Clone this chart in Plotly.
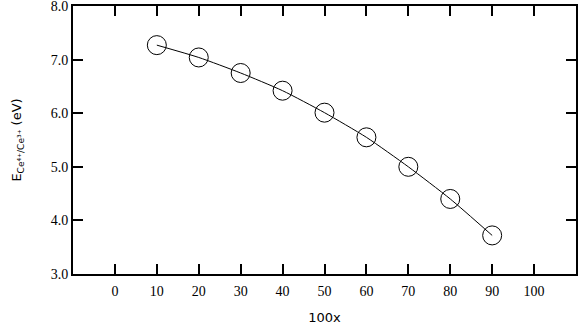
import plotly.graph_objects as go

x_vals = [10, 20, 30, 40, 50, 60, 70, 80, 90]
e_vals = [7.27, 7.04, 6.75, 6.42, 6.01, 5.55, 5.00, 4.40, 3.72]
x_ticks = [0, 10, 20, 30, 40, 50, 60, 70, 80, 90, 100]
y_ticks = [3.0, 4.0, 5.0, 6.0, 7.0, 8.0]

fig = go.Figure()
fig.add_trace(go.Scatter(x=x_vals, y=e_vals, mode="lines",
                         line=dict(color="black", width=1, shape="spline", smoothing=0.6),
                         hoverinfo="skip", showlegend=False))
fig.add_trace(go.Scatter(x=x_vals, y=e_vals, mode="markers",
                         marker=dict(symbol="circle-open", size=19, color="black",
                                     line=dict(color="black", width=1)),
                         showlegend=False))

tickfont = dict(family="Liberation Serif, serif", size=14, color="black")
fig.update_layout(
    width=578, height=325,
    margin=dict(l=73, r=2, t=6, b=51),
    paper_bgcolor="white", plot_bgcolor="white",
    xaxis=dict(range=[-10, 110], tickvals=x_ticks, ticktext=[str(v) for v in x_ticks],
               ticks="inside", ticklen=10, tickwidth=2, tickcolor="black",
               showline=True, linewidth=2, linecolor="black", mirror="ticks",
               showgrid=False, zeroline=False, tickfont=tickfont, ticklabelstandoff=3,
               automargin=False, ticklabeloverflow="allow",
               title=dict(text="100x", font=dict(family="DejaVu Sans", size=13, color="black"),
                          standoff=15)),
    yaxis=dict(range=[3, 8], tickvals=y_ticks, ticktext=["%.1f" % v for v in y_ticks],
               ticks="inside", ticklen=10, tickwidth=2, tickcolor="black",
               showline=True, linewidth=2, linecolor="black", mirror="ticks",
               showgrid=False, zeroline=False, tickfont=tickfont, ticklabelstandoff=0,
               automargin=False, ticklabeloverflow="allow",
               title=dict(text="E<sub>Ce⁴⁺/Ce³⁺</sub> (eV)",
                          font=dict(family="DejaVu Sans", size=13, color="black"),
                          standoff=26)),
)
fig.write_html("out.html", config={"displayModeBar": False},
               post_script="document.body.style.margin='0';")
